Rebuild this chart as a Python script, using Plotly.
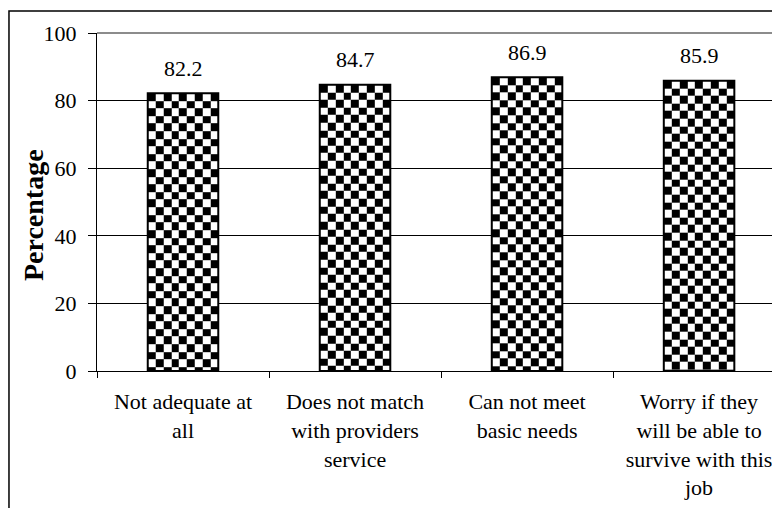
import numpy as np
import plotly.graph_objects as go

# Survey results: share of respondents (%) per statement about pay
categories = [
    "Not adequate at<br>all",
    "Does not match<br>with providers<br>service",
    "Can not meet<br>basic needs",
    "Worry if they<br>will be able to<br>survive with this<br>job",
]
values = [82.2, 84.7, 86.9, 85.9]
y_ticks = [0, 20, 40, 60, 80, 100]

FONT = "Liberation Serif, Times New Roman, serif"
BAR_WIDTH = 0.41
CHECK_COLS = 9        # checker squares across one bar
CHECK_STEP = 2.25     # checker square height in data units

x_pos = list(range(len(categories)))

fig = go.Figure()

# Checkerboard fill of each bar, built top-down from the bar's value
for xi, v in zip(x_pos, values):
    x_edges = np.linspace(xi - BAR_WIDTH / 2, xi + BAR_WIDTH / 2, CHECK_COLS + 1)
    n_rows = int(np.ceil(v / CHECK_STEP))
    top_down = [v - k * CHECK_STEP for k in range(n_rows)] + [0.0]
    top_down = [max(e, 0.0) for e in top_down]
    y_edges = top_down[::-1]
    z = []
    for r in range(n_rows):
        r_from_top = n_rows - 1 - r
        z.append([1 if (r_from_top + c) % 2 == 0 else 0 for c in range(CHECK_COLS)])
    fig.add_trace(go.Heatmap(
        x=x_edges, y=y_edges, z=z,
        colorscale=[[0, "white"], [1, "black"]], zmin=0, zmax=1,
        showscale=False, hoverinfo="skip",
    ))

# Bar outlines
fig.add_trace(go.Bar(
    x=x_pos, y=values, width=BAR_WIDTH,
    marker=dict(color="rgba(0,0,0,0)", line=dict(color="black", width=2)),
    hoverinfo="x+y",
))

# Value labels above bars
for xi, v in zip(x_pos, values):
    fig.add_annotation(
        x=xi, y=v, text=f"{v}", showarrow=False, yshift=25, yanchor="middle",
        font=dict(family=FONT, size=22, color="black"),
    )

# Y-axis title
fig.add_annotation(
    xref="paper", yref="paper", x=-0.0948, y=0.4615,
    text="<b>Percentage</b>", textangle=-90, showarrow=False,
    xanchor="center", yanchor="middle",
    font=dict(family=FONT, size=28, color="black"),
)

# Gray top edge of the plot area and outer chart frame
fig.add_shape(type="line", xref="paper", yref="paper", x0=0, x1=1.02, y0=1, y1=1,
              line=dict(color="#8c8c8c", width=2))
fig.add_shape(type="rect", xref="paper", yref="paper",
              x0=-0.1304, x1=1.1, y0=-0.6, y1=1.0651,
              line=dict(color="black", width=1.5), fillcolor="rgba(0,0,0,0)")

boundaries = [i - 0.5 for i in x_pos]

fig.update_layout(
    width=772, height=508,
    margin=dict(l=97, r=0, t=33, b=137),
    paper_bgcolor="white", plot_bgcolor="white",
    showlegend=False,
    font=dict(family=FONT, size=22, color="black"),
    xaxis=dict(
        range=[-0.5, 3.424],
        tickmode="array", tickvals=x_pos, ticktext=categories,
        ticks="", showgrid=False, zeroline=False,
        showline=True, linecolor="black", linewidth=1,
        ticklabelstandoff=11, ticklabeloverflow="allow",
        tickfont=dict(family=FONT, size=22, color="black"),
        minor=dict(tickmode="array", tickvals=boundaries, ticks="outside",
                   ticklen=6, tickcolor="black", tickwidth=1, showgrid=False),
    ),
    yaxis=dict(
        range=[0, 100],
        tickmode="array", tickvals=y_ticks,
        ticks="outside", ticklen=8, tickcolor="black", tickwidth=1,
        showgrid=True, gridcolor="black", gridwidth=1,
        zeroline=False, showline=True, linecolor="black", linewidth=1,
        ticklabelstandoff=7,
        tickfont=dict(family=FONT, size=22, color="black"),
    ),
)

fig.write_html("out.html")
